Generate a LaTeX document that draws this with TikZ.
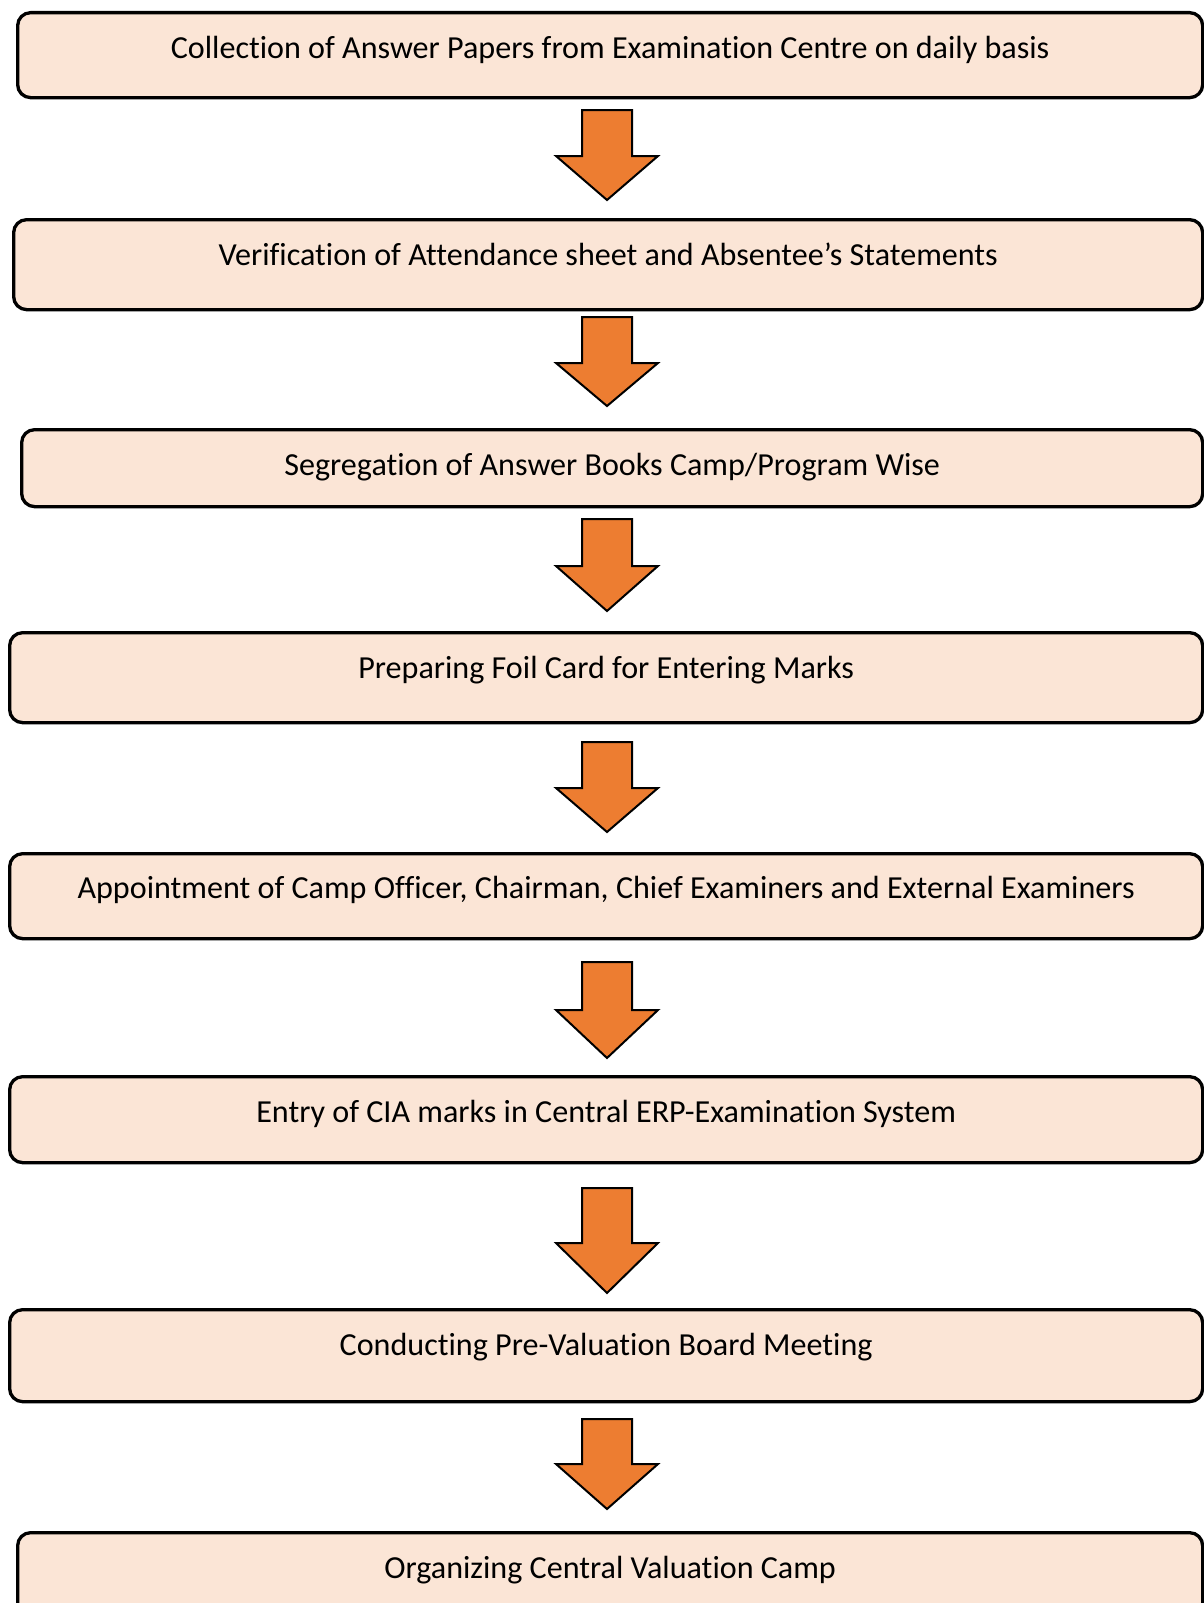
\documentclass[tikz,border=0pt]{standalone}
\usepackage{fontspec}
\setmainfont{Carlito}[Ligatures=NoCommon]
\definecolor{stagefill}{HTML}{FBE5D6}
\definecolor{arrowfill}{HTML}{ED7D31}

% one stage of the process: name, left, top, right, bottom, baseline, text
\newcommand\stagebox[7]{%
  \node[stage, minimum width={#4pt-#2pt}, text height={#6pt-#3pt},
        text depth={#5pt-#6pt}] (#1) at (#2,#3) {#7};}

% thick block arrow between two stages: name, top, shoulder, tip
\newcommand\flowarrow[4]{%
  \coordinate (#1) at (607,#2);
  \draw[blockarrow] (#1) ++(-25,0) -- ++(50,0) -- (632,#3) -- (658,#3)
    -- (607,#4) -- (556,#3) -- (582,#3) -- cycle;}

\begin{document}
\begin{tikzpicture}[x=1pt,y=-1pt,
  stage/.style={draw=black, line width=3.3pt, fill=stagefill,
    rounded corners=13pt, anchor=north west, inner xsep=0pt,
    inner ysep=0pt, minimum height=0pt,
    font=\fontsize{32.1}{39}\selectfont},
  blockarrow/.style={draw=black, line width=2pt, fill=arrowfill,
    line join=miter}]
\useasboundingbox (0,0) rectangle (1204,1603);
\clip (0,0) rectangle (1204,1603);

\stagebox{s1}{16}{11}{1201}{96}{57}{Collection of Answer Papers from Examination Centre on daily basis}
\stagebox{s2}{12}{218}{1201}{308}{264}{Verification of Attendance sheet and Absentee’s Statements}
\stagebox{s3}{20}{428}{1201}{505}{474}{Segregation of Answer Books Camp/Program Wise}
\stagebox{s4}{8}{631}{1201}{721}{677}{Preparing Foil Card for Entering Marks}
\stagebox{s5}{8}{852}{1201}{937}{897}{Appointment of Camp Officer, Chairman, Chief Examiners and External Examiners}
\stagebox{s6}{8}{1075}{1201}{1161}{1121}{Entry of CIA marks in Central ERP-Examination System}
\stagebox{s7}{8}{1308}{1201}{1400}{1354}{Conducting Pre-Valuation Board Meeting}
\stagebox{s8}{16}{1531}{1201}{1625}{1577}{Organizing Central Valuation Camp}

\flowarrow{a1}{110}{156}{200}
\flowarrow{a2}{317}{363}{406}
\flowarrow{a3}{519}{566}{611}
\flowarrow{a4}{742}{788}{832}
\flowarrow{a5}{962}{1010}{1058}
\flowarrow{a6}{1188}{1243}{1293}
\flowarrow{a7}{1419}{1464}{1509}
\end{tikzpicture}
\end{document}
